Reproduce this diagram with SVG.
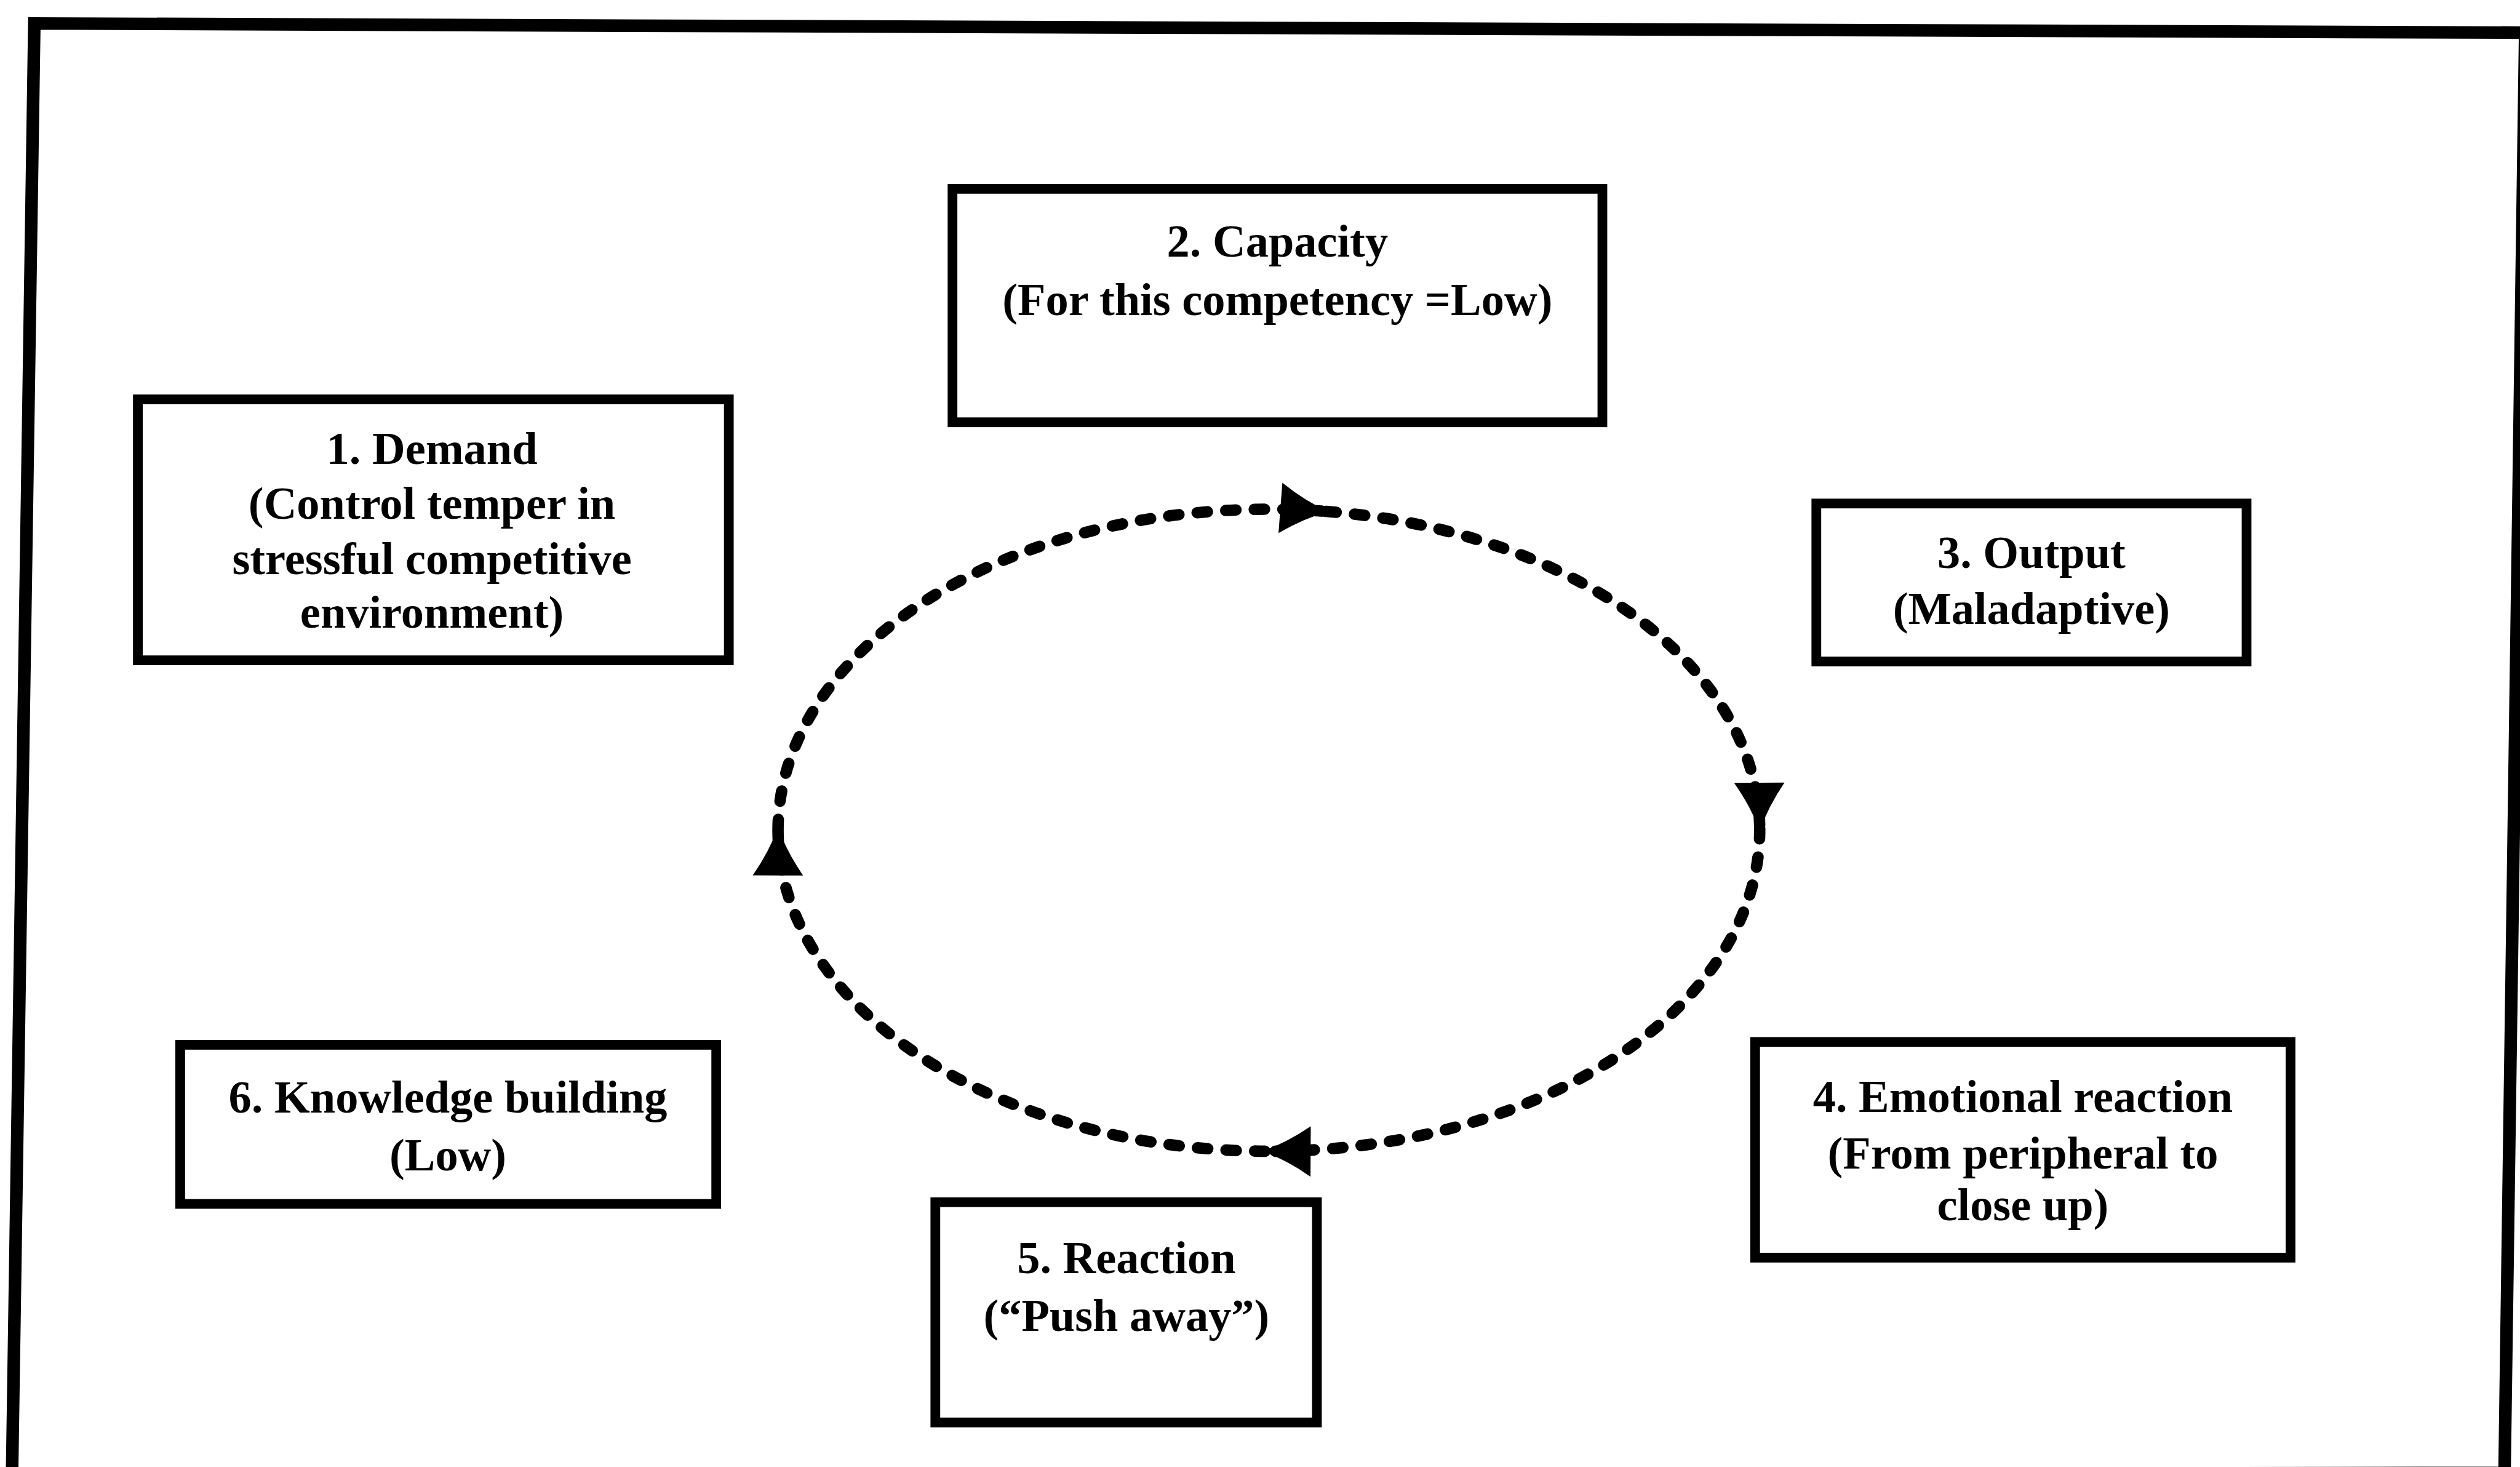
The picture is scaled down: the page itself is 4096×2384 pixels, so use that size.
<svg xmlns="http://www.w3.org/2000/svg" width="4096" height="2384" viewBox="0 0 4096 2384">
  <defs>
    <style>
      .frame { fill: none; stroke: #000; stroke-width: 22; stroke-linejoin: miter; }
      .box { fill: #fff; stroke: #000; stroke-width: 17; }
      .label { font-family: "Liberation Serif", "Times New Roman", serif; font-weight: bold; font-size: 80px; fill: #000; text-anchor: middle; }
      .cycle { fill: none; stroke: #000; stroke-width: 20; stroke-dasharray: 18 32; stroke-linecap: round; }
    </style>
    <marker id="head" markerUnits="userSpaceOnUse" markerWidth="110" markerHeight="110" viewBox="-95 -55 110 110" refX="0" refY="0" orient="auto">
      <path d="M4,0 Q-38,-15 -80,-44 L-80,44 Q-38,15 4,0 Z" fill="#000"/>
    </marker>
  </defs>

  <rect x="0" y="0" width="4096" height="2384" fill="#fff"/>

  <g transform="scale(0.92985)">
    <!-- outer border; its lower edge runs along the bottom of the sheet -->
    <polygon class="frame" points="60,41 4414,57 4378,2574 21,2582"/>

    <!-- dashed cycle, one arc per step, each ending in an arrowhead -->
    <g id="connectors">
      <path class="cycle" marker-end="url(#head)" d="M1360,1450 A858,561 0 0 1 2318,893.8"/>
      <path class="cycle" marker-end="url(#head)" d="M2318,893.8 A858,561 0 0 1 3076,1448"/>
      <path class="cycle" marker-end="url(#head)" d="M3076,1448 A858,561 0 0 1 2211,2012"/>
      <path class="cycle" marker-end="url(#head)" d="M2211,2012 A858,561 0 0 1 1360,1450"/>
    </g>

    <g id="node-demand">
      <rect class="box" x="241" y="698" width="1033" height="456"/>
      <text class="label" x="755" y="811">1. Demand</text>
      <text class="label" x="755" y="907">(Control temper in</text>
      <text class="label" x="755" y="1003">stressful competitive</text>
      <text class="label" x="755" y="1097">environment)</text>
    </g>

    <g id="node-capacity">
      <rect class="box" x="1665" y="330" width="1136" height="408"/>
      <text class="label" x="2233" y="449">2. Capacity</text>
      <text class="label" x="2233" y="551">(For this competency =Low)</text>
    </g>

    <g id="node-output">
      <rect class="box" x="3175" y="880" width="752" height="276"/>
      <text class="label" x="3551" y="993">3. Output</text>
      <text class="label" x="3551" y="1091">(Maladaptive)</text>
    </g>

    <g id="node-emotional-reaction">
      <rect class="box" x="3068" y="1821" width="936" height="377"/>
      <text class="label" x="3536" y="1943">4. Emotional reaction</text>
      <text class="label" x="3536" y="2042">(From peripheral to</text>
      <text class="label" x="3536" y="2133">close up)</text>
    </g>

    <g id="node-reaction">
      <rect class="box" x="1635" y="2101" width="667" height="385"/>
      <text class="label" x="1969" y="2225">5. Reaction</text>
      <text class="label" x="1969" y="2326">(“Push away”)</text>
    </g>

    <g id="node-knowledge">
      <rect class="box" x="315" y="1826" width="937" height="278"/>
      <text class="label" x="783" y="1944">6. Knowledge building</text>
      <text class="label" x="783" y="2045">(Low)</text>
    </g>
  </g>
</svg>
